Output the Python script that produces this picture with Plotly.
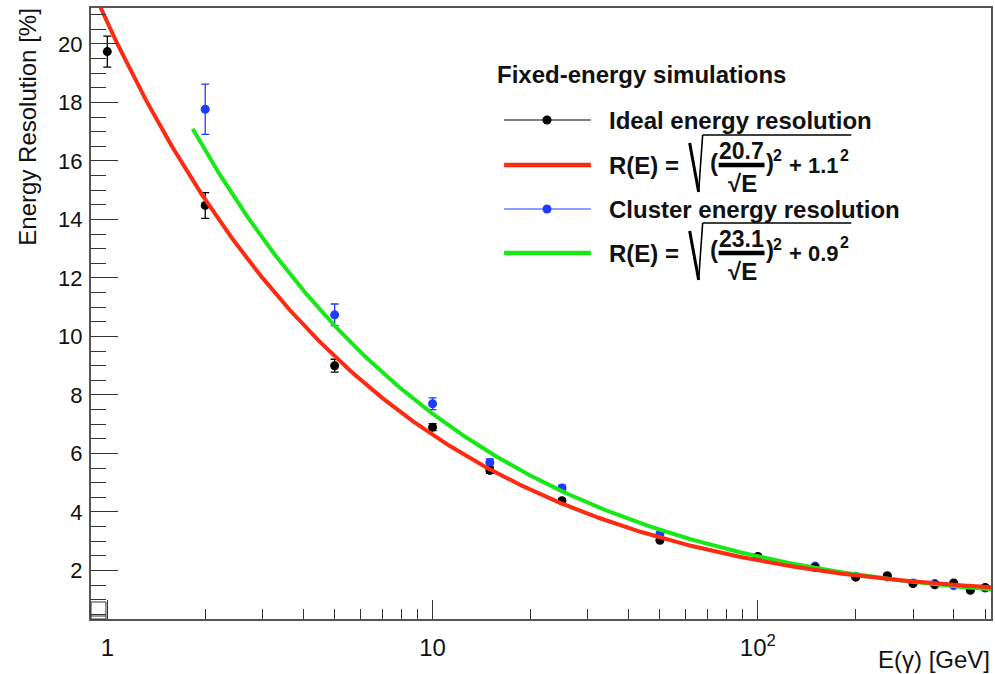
import numpy as np
import plotly.graph_objects as go

# ---------------- data ----------------
energy_ideal = [1, 2, 5, 10, 15, 25, 50, 100, 150, 200, 250, 300, 350, 400, 450, 500]
res_ideal = [19.74, 14.48, 9.00, 6.90, 5.42, 4.38, 3.03, 2.48, 2.10, 1.77, 1.82, 1.55, 1.51, 1.57, 1.32, 1.42]
err_ideal = [0.53, 0.44, 0.22, 0.12, 0.10, 0.08, 0.06, 0.05, 0.05, 0.05, 0.05, 0.05, 0.05, 0.05, 0.05, 0.05]

energy_cluster = [2, 5, 10, 15, 25, 50, 100, 150, 200, 250, 300, 350, 400, 450, 500]
res_cluster = [17.77, 10.74, 7.70, 5.69, 4.82, 3.25, 2.45, 2.15, 1.80, 1.78, 1.57, 1.55, 1.48, 1.36, 1.40]
err_cluster = [0.86, 0.37, 0.20, 0.12, 0.10, 0.07, 0.06, 0.06, 0.06, 0.06, 0.06, 0.06, 0.06, 0.06, 0.06]

# fit parameters (stochastic term, constant term) and fit ranges [GeV]
fit_ideal = (20.7, 1.1)
fit_cluster = (23.1, 0.9)
fit_range_ideal = (0.89, 521)
fit_range_cluster = (1.83, 521)

x_tickvals = [1, 10, 100]
x_ticktext = ["1", "10", "10<sup>2</sup>"]
x_minor = [2, 3, 4, 5, 6, 7, 8, 9, 20, 30, 40, 50, 60, 70, 80, 90, 200, 300, 400, 500]
y_tickvals = [2, 4, 6, 8, 10, 12, 14, 16, 18, 20]
x_range = (0.891, 521)
y_range = (0.34, 21.23)

legend_title = "Fixed-energy simulations"
legend_labels = ["Ideal energy resolution", "Cluster energy resolution"]

# ---------------- styling ----------------
W, H = 995, 674
L, R, T, B = 91, 993, 8, 619
FONT = "Liberation Sans, Arial, Helvetica, sans-serif"
RED = "#ff2a12"
GREEN = "#18e818"
BLUE = "#1e3cff"
BLACK = "#000000"
TXT = "#111111"


def px(x):
    return (x - L) / (R - L)


def py(y):
    return (B - y) / (B - T)


def fit_curve(params, rng):
    a, c = params
    e = np.logspace(np.log10(rng[0]), np.log10(rng[1]), 400)
    return e, np.sqrt((a / np.sqrt(e)) ** 2 + c ** 2)


fig = go.Figure()

fig.add_trace(go.Scatter(
    x=energy_cluster, y=res_cluster, mode="markers",
    marker=dict(color=BLUE, size=9, line=dict(width=0)),
    error_y=dict(type="data", array=err_cluster, color=BLUE, thickness=1.3, width=4),
    showlegend=False))
fig.add_trace(go.Scatter(
    x=energy_ideal, y=res_ideal, mode="markers",
    marker=dict(color=BLACK, size=9, line=dict(width=0)),
    error_y=dict(type="data", array=err_ideal, color=BLACK, thickness=1.3, width=4),
    showlegend=False))

ec, rc = fit_curve(fit_cluster, fit_range_cluster)
fig.add_trace(go.Scatter(x=ec, y=rc, mode="lines", line=dict(color=GREEN, width=4),
                         showlegend=False, hoverinfo="skip"))
ei, ri = fit_curve(fit_ideal, fit_range_ideal)
fig.add_trace(go.Scatter(x=ei, y=ri, mode="lines", line=dict(color=RED, width=4),
                         showlegend=False, hoverinfo="skip"))

annotations = []
shapes = []


def text(s, x, y, size=24, bold=False, xanchor="left", yanchor="middle", angle=0):
    if bold:
        s = "<b>" + s + "</b>"
    annotations.append(dict(text=s, x=px(x), y=py(y), xref="paper", yref="paper",
                            xanchor=xanchor, yanchor=yanchor, showarrow=False,
                            textangle=angle, borderpad=0,
                            font=dict(family=FONT, size=size, color=TXT)))


def line(x0, y0, x1, y1, color, width):
    shapes.append(dict(type="line", xref="paper", yref="paper",
                       x0=px(x0), y0=py(y0), x1=px(x1), y1=py(y1),
                       line=dict(color=color, width=width)))


def dot(x, y, color, r=4.5):
    shapes.append(dict(type="circle", xref="paper", yref="paper",
                       xsizemode="pixel", ysizemode="pixel",
                       xanchor=px(x), yanchor=py(y), x0=-r, x1=r, y0=-r, y1=r,
                       fillcolor=color, line=dict(width=0)))


def formula(yc, num, const):
    text("R(E) =", 609, yc, bold=True)
    # radical sign
    line(691, yc - 22, 700, yc + 27, BLACK, 3)
    line(700, yc + 27, 704, yc - 30, BLACK, 1.6)
    line(704, yc - 30, 853, yc - 30, BLACK, 1.6)
    text("(", 710, yc - 3, bold=True)
    text(num, 743, yc - 14, size=23, bold=True, xanchor="center")
    line(720, yc, 766, yc, BLACK, 4.5)
    text("√E", 744, yc + 18, bold=True, xanchor="center")
    text(")", 766, yc - 3, bold=True)
    text("2", 774, yc - 9, size=16, bold=True)
    text("+ " + const, 790, yc, size=22, bold=True)
    text("2", 841, yc - 10, size=16, bold=True)


# legend
text(legend_title, 497, 75, bold=True)
line(505, 120, 592, 120, BLACK, 1.2)
dot(548, 120, BLACK)
text(legend_labels[0], 609, 120, bold=True)
line(505, 165, 592, 165, RED, 4.5)
formula(165, f"{fit_ideal[0]}", f"{fit_ideal[1]}")
line(505, 209, 592, 209, BLUE, 1.2)
dot(548, 209, BLUE)
text(legend_labels[1], 609, 209, bold=True)
line(505, 253, 592, 253, GREEN, 4.5)
formula(253, f"{fit_cluster[0]}", f"{fit_cluster[1]}")

# axis titles
text("E(γ) [GeV]", 993, 659, xanchor="right")
text("Energy Resolution [%]", 27, 8, xanchor="center", yanchor="top", angle=-90)

# small empty box in the lower-left corner of the frame
shapes.append(dict(type="rect", xref="paper", yref="paper",
                   x0=px(91), x1=px(106), y0=py(619), y1=py(602),
                   line=dict(color="#333333", width=1)))
line(91, 616, 106, 616, "#333333", 1)

fig.update_layout(
    width=W, height=H,
    margin=dict(l=L, r=W - R, t=T, b=H - B),
    paper_bgcolor="white", plot_bgcolor="white",
    showlegend=False,
    annotations=annotations, shapes=shapes,
    font=dict(family=FONT, color=TXT),
    xaxis=dict(type="log", range=[np.log10(x_range[0]), np.log10(x_range[1])],
               tickmode="array", tickvals=x_tickvals, ticktext=x_ticktext,
               ticks="inside", ticklen=19, tickwidth=1.2, tickcolor="#333333",
               minor=dict(tickmode="array", tickvals=x_minor, ticks="inside",
                          ticklen=10, tickwidth=1.2, tickcolor="#333333"),
               showgrid=False, zeroline=False,
               showline=True, mirror=True, linecolor="#555555", linewidth=2,
               tickfont=dict(family=FONT, size=24, color=TXT),
               ticklabelstandoff=6),
    yaxis=dict(range=list(y_range), tickmode="array", tickvals=y_tickvals,
               ticks="inside", ticklen=27, tickwidth=1.2, tickcolor="#333333",
               minor=dict(dtick=0.5, ticks="inside", ticklen=15, tickwidth=1.2,
                          tickcolor="#333333"),
               showgrid=False, zeroline=False,
               showline=True, mirror=True, linecolor="#555555", linewidth=2,
               tickfont=dict(family=FONT, size=22, color=TXT),
               ticklabelstandoff=2),
)

fig.write_html("out.html")
